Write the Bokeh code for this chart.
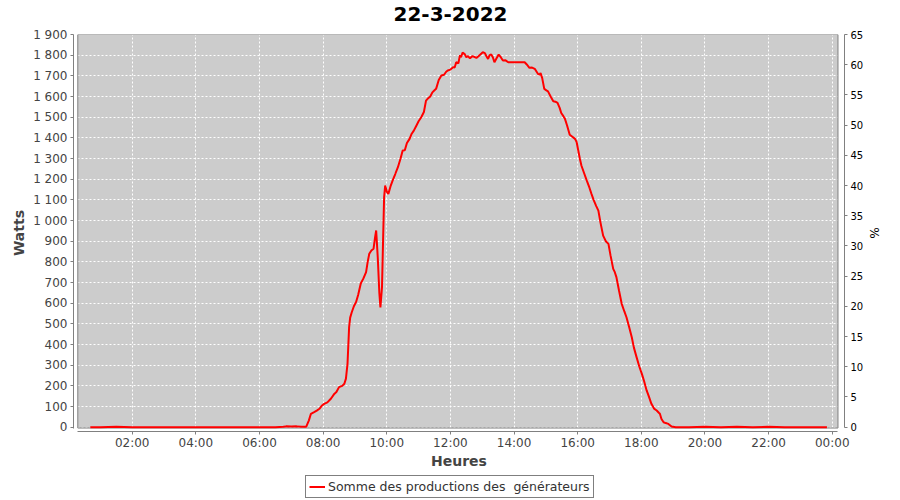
from bokeh.plotting import figure
from bokeh.layouts import column
from bokeh.models import Range1d, LinearAxis, FixedTicker, Legend, LegendItem, Label
from bokeh.embed import file_html
from bokeh.resources import INLINE

# ---------------- data ----------------
times = [
    "00:41", "01:00", "01:30", "02:00", "02:30", "03:00", "03:30", "04:00", "04:30",
    "05:00", "05:30", "06:00", "06:30", "06:45", "06:50", "07:00", "07:10", "07:20",
    "07:28", "07:33", "07:37", "07:43", "07:48", "07:53", "07:58", "08:02", "08:08",
    "08:15", "08:21", "08:25", "08:30", "08:36", "08:40", "08:43", "08:46", "08:49",
    "08:51", "08:54", "08:58", "09:02", "09:06", "09:11", "09:16", "09:21", "09:24",
    "09:27", "09:31", "09:35", "09:38", "09:40", "09:43", "09:46", "09:48", "09:51",
    "09:53", "09:55", "09:57", "10:00", "10:03", "10:07", "10:11", "10:16", "10:21",
    "10:26", "10:30", "10:34", "10:38", "10:43", "10:47", "10:51", "10:56", "11:00",
    "11:05", "11:10", "11:14", "11:17", "11:22", "11:26", "11:30", "11:33", "11:38",
    "11:43", "11:48", "11:52", "11:55", "12:00", "12:05", "12:08", "12:11", "12:15",
    "12:18", "12:20", "12:23", "12:27", "12:30", "12:33", "12:37", "12:41", "12:45",
    "12:49", "12:53", "12:57", "13:01", "13:05", "13:08", "13:11", "13:14", "13:17",
    "13:20", "13:23", "13:27", "13:31", "13:35", "13:39", "13:44", "13:49", "14:00",
    "14:10", "14:20", "14:24", "14:29", "14:34", "14:39", "14:45", "14:48", "14:50",
    "14:53", "14:57", "15:01", "15:04", "15:09", "15:14", "15:18", "15:22", "15:26",
    "15:29", "15:33", "15:36", "15:40", "15:45", "15:50", "15:55", "15:58", "16:01",
    "16:04", "16:07", "16:12", "16:17", "16:22", "16:26", "16:30", "16:35", "16:39",
    "16:43", "16:48", "16:53", "16:58", "17:02", "17:07", "17:10", "17:13", "17:18",
    "17:23", "17:28", "17:32", "17:37", "17:42", "17:46", "17:51", "17:56", "18:01",
    "18:05", "18:10", "18:14", "18:19", "18:24", "18:29", "18:33", "18:35", "18:38",
    "18:42", "18:46", "18:51", "18:57", "19:05", "19:30", "20:00", "20:30", "21:00",
    "21:30", "22:00", "22:30", "23:00", "23:30", "23:50",
]
watts = [
    0, 0, 2, 0, 0, 0, 0, 0, 0,
    0, 0, 0, 0, 2, 4, 3, 4, 2,
    2, 32, 65, 73, 80, 89, 105, 113, 120,
    139, 161, 170, 194, 200, 210, 235, 308, 484,
    530, 556, 585, 605, 640, 695, 720, 750, 800,
    839, 855, 863, 920, 952, 822, 650, 580, 677,
    900, 1113, 1169, 1140, 1129, 1165, 1193, 1225, 1258,
    1300, 1339, 1340, 1375, 1395, 1420, 1435, 1460, 1480,
    1500, 1525, 1580, 1589, 1600, 1620, 1630, 1637, 1680,
    1702, 1705, 1720, 1726, 1730, 1742, 1740, 1766, 1760,
    1800, 1790, 1812, 1805, 1790, 1795, 1785, 1795, 1792,
    1787, 1795, 1805, 1814, 1810, 1795, 1782, 1800, 1803,
    1790, 1766, 1785, 1803, 1790, 1774, 1775, 1766, 1766,
    1766, 1766, 1755, 1739, 1740, 1734, 1710, 1706, 1713,
    1690, 1637, 1630, 1625, 1600, 1577, 1575, 1569, 1545,
    1520, 1505, 1492, 1460, 1415, 1405, 1395, 1380, 1340,
    1300, 1266, 1230, 1194, 1160, 1129, 1100, 1070, 1048,
    990, 927, 900, 887, 830, 766, 750, 726, 660,
    597, 560, 532, 485, 435, 385, 339, 295, 258,
    225, 178, 150, 113, 90, 81, 70, 65, 40,
    24, 20, 16, 3, 0, 0, 2, 0, 2,
    0, 2, 0, 0, 0, 0,
]

x_tick_hours = [2, 4, 6, 8, 10, 12, 14, 16, 18, 20, 22, 24]
x_tick_labels = ["02:00", "04:00", "06:00", "08:00", "10:00", "12:00",
                 "14:00", "16:00", "18:00", "20:00", "22:00", "00:00"]
y_ticks = list(range(0, 2000, 100))
y_tick_labels = ["0", "100", "200", "300", "400", "500", "600", "700", "800", "900",
                 "1 000", "1 100", "1 200", "1 300", "1 400", "1 500", "1 600",
                 "1 700", "1 800", "1 900"]
pct_ticks = list(range(0, 70, 5))

title_text = "22-3-2022"
series_label = "Somme des productions des  générateurs"

# ---------------- layout constants ----------------
X0, X1 = 0.155, 24.385          # frame extent (hours), includes axis gap
PX0, PX1 = 0.29, 24.18          # plot-area extent (hours)
Y0, Y1 = -20.8, 1900            # frame extent (watts)
PY0 = -4                        # plot-area bottom
PCT_MAX = 65
LINE_COLOR = "#FF0000"
FRAME_W = 771                   # frame width in px (aligned across the column)
TITLE_CX = 377                  # title centre, px from frame left

hours = [int(t[:2]) + int(t[3:]) / 60 for t in times]

FONT = "DejaVu Sans"


def strip(height, y_range=(0, 1)):
    f = figure(width=900, height=height, x_range=Range1d(0, FRAME_W),
               y_range=Range1d(*y_range), output_backend="svg", toolbar_location=None,
               min_border_left=0, min_border_right=0, min_border_top=0, min_border_bottom=0,
               background_fill_color="white", border_fill_color="white",
               outline_line_color=None)
    f.axis.visible = False
    f.grid.visible = False
    return f


# ---------------- title strip ----------------
tf = strip(26)
tf.add_layout(Label(x=TITLE_CX, y=0.5, text=title_text, text_align="center",
                    text_baseline="middle", text_font=FONT, text_font_size="20px",
                    text_font_style="bold", text_color="#000000"))

# ---------------- main chart ----------------
p = figure(width=900, height=446, x_range=Range1d(X0, X1), y_range=Range1d(Y0, Y1),
           output_backend="svg", toolbar_location=None,
           min_border_left=73, min_border_right=56, min_border_top=8, min_border_bottom=41,
           background_fill_color="white", border_fill_color="white",
           outline_line_color=None)

# plot area background + outline
p.quad(left=[PX0], right=[PX1], bottom=[PY0], top=[Y1], fill_color="#CCCCCC",
       line_color=None, level="image")

# grids
for g in (p.xgrid, p.ygrid):
    g.grid_line_color = "white"
    g.grid_line_dash = "2 2"
    g.grid_line_width = 1
p.xgrid.ticker = FixedTicker(ticks=x_tick_hours)
p.ygrid.ticker = FixedTicker(ticks=y_ticks)

p.quad(left=[PX0], right=[PX1], bottom=[PY0], top=[Y1], fill_color=None,
       line_color="#808080", line_width=1)

r = p.line(hours, watts, line_color=LINE_COLOR, line_width=2)

# axes
xa = p.xaxis[0]
xa.ticker = FixedTicker(ticks=x_tick_hours)
xa.major_label_overrides = {h: l for h, l in zip(x_tick_hours, x_tick_labels)}
xa.axis_label = "Heures"
xa.bounds = (PX0, PX1)

ya = p.yaxis[0]
ya.ticker = FixedTicker(ticks=y_ticks)
ya.major_label_overrides = {v: l for v, l in zip(y_ticks, y_tick_labels)}
ya.axis_label = "Watts"
ya.bounds = (PY0, Y1)

p.extra_y_ranges = {"pct": Range1d(Y0 / Y1 * PCT_MAX, PCT_MAX)}
ra = LinearAxis(y_range_name="pct", ticker=FixedTicker(ticks=pct_ticks), axis_label="%",
                bounds=(0, PCT_MAX))
p.add_layout(ra, "right")

for ax in (xa, ya, ra):
    ax.axis_line_color = "#808080"
    ax.major_tick_line_color = "#808080"
    ax.major_tick_out = 3
    ax.major_tick_in = 0
    ax.minor_tick_line_color = None
    ax.major_label_text_font = FONT
    ax.axis_label_text_font = FONT
    ax.major_label_standoff = 3

for ax in (xa, ya):
    ax.major_label_text_font_size = "12px"
    ax.major_label_text_color = "#444444"
    ax.axis_label_text_font_size = "14px"
    ax.axis_label_text_font_style = "bold"
    ax.axis_label_text_color = "#444444"
ya.axis_label_standoff = 3
xa.major_label_standoff = 1
xa.axis_label_standoff = 0

ra.major_label_text_font_size = "10px"
ra.major_label_text_color = "#000000"
ra.axis_label_text_font_size = "12px"
ra.axis_label_text_font_style = "normal"
ra.axis_label_text_color = "#000000"
ra.axis_label_standoff = 1

# ---------------- legend strip ----------------
lg = strip(28, y_range=(-10, -9))
lr = lg.line(hours, watts, line_color=LINE_COLOR, line_width=2)
legend = Legend(items=[LegendItem(label=series_label, renderers=[lr])],
                orientation="horizontal", location=(232, 2),
                border_line_color="black", border_line_width=1,
                label_text_font=FONT, label_text_font_size="12.5px",
                label_text_color="#333333",
                glyph_width=16, glyph_height=15, padding=3, margin=0,
                spacing=0, label_standoff=3, label_height=15)
lg.add_layout(legend, "center")

open("out.html", "w").write(file_html(column(tf, p, lg, spacing=0), INLINE))
